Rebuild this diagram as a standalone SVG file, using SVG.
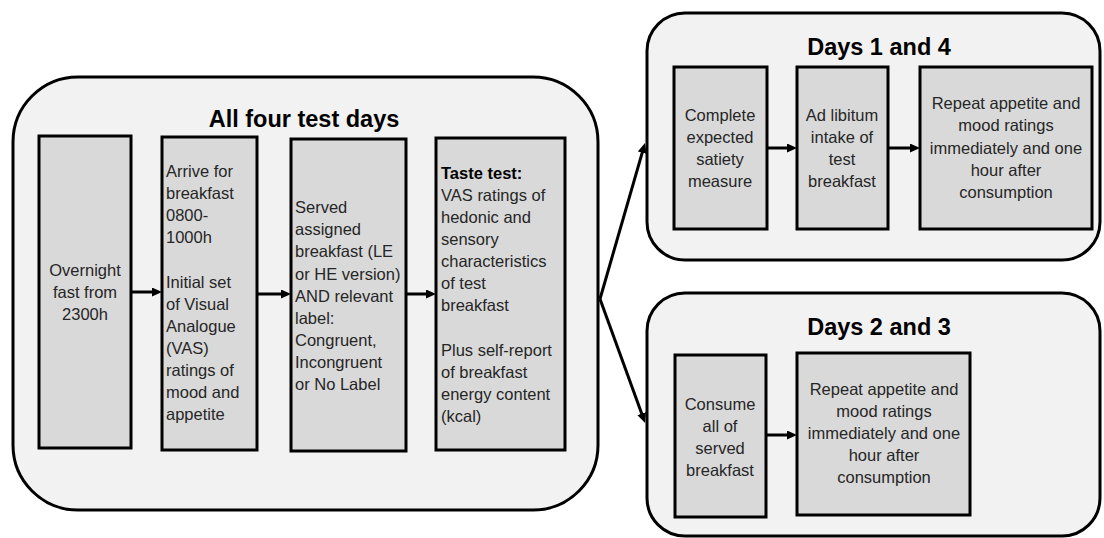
<svg xmlns="http://www.w3.org/2000/svg" width="1104" height="538" viewBox="0 0 1104 538">
<style>
.bg{fill:#ffffff}
.cont{fill:#f2f2f2;stroke:#000;stroke-width:3}
.box{fill:#d9d9d9;stroke:#000;stroke-width:3}
.title{font-family:"Liberation Sans",Arial,sans-serif;font-weight:bold;font-size:23.5px;fill:#000;text-anchor:middle}
.t{font-family:"Liberation Sans",Arial,sans-serif;font-size:16.5px;fill:#262626}
.c{text-anchor:middle}
.b{font-weight:bold;fill:#000}
.conn{stroke:#000;stroke-width:3;fill:none;marker-end:url(#ah)}
</style>
<defs>
<marker id="ah" markerUnits="userSpaceOnUse" markerWidth="12" markerHeight="10" refX="5" refY="4.5" orient="auto">
<path d="M0,0 L10,4.5 L0,9 z" fill="#000"/>
</marker>
</defs>
<rect class="bg" x="0" y="0" width="1104" height="538"/>

<g id="all-four-test-days">
<rect class="cont" x="13" y="77" width="585" height="433" rx="65" ry="65"/>
<text class="title" x="304" y="127">All four test days</text>
</g>
<g id="days-1-and-4">
<rect class="cont" x="647" y="13" width="453" height="247" rx="38" ry="38"/>
<text class="title" x="879" y="55">Days 1 and 4</text>
</g>
<g id="days-2-and-3">
<rect class="cont" x="647" y="293" width="453" height="243" rx="38" ry="38"/>
<text class="title" x="879" y="335">Days 2 and 3</text>
</g>

<g id="overnight-fast">
<rect class="box" x="39" y="136" width="92" height="312"/>
<text class="t c"><tspan x="85" y="276">Overnight</tspan><tspan x="85" y="298">fast from</tspan><tspan x="85" y="320">2300h</tspan></text>
</g>
<g id="arrive-breakfast">
<rect class="box" x="162" y="137" width="95" height="313"/>
<text class="t"><tspan x="166" y="177">Arrive for</tspan><tspan x="166" y="199">breakfast</tspan><tspan x="166" y="221">0800-</tspan><tspan x="166" y="243">1000h</tspan><tspan x="166" y="288">Initial set</tspan><tspan x="166" y="310">of Visual</tspan><tspan x="166" y="332">Analogue</tspan><tspan x="166" y="354">(VAS)</tspan><tspan x="166" y="376">ratings of</tspan><tspan x="166" y="398">mood  and</tspan><tspan x="166" y="420">appetite</tspan></text>
</g>
<g id="served-breakfast">
<rect class="box" x="291" y="139" width="115" height="312"/>
<text class="t"><tspan x="295" y="213">Served</tspan><tspan x="295" y="235">assigned</tspan><tspan x="295" y="257">breakfast (LE</tspan><tspan x="295" y="280">or HE version)</tspan><tspan x="295" y="302">AND relevant</tspan><tspan x="295" y="324">label:</tspan><tspan x="295" y="346">Congruent,</tspan><tspan x="295" y="368">Incongruent</tspan><tspan x="295" y="390">or No Label</tspan></text>
</g>
<g id="taste-test">
<rect class="box" x="436" y="138" width="129" height="312"/>
<text class="t"><tspan x="441" y="179" class="b">Taste test:</tspan><tspan x="441" y="201">VAS ratings of</tspan><tspan x="441" y="223">hedonic and</tspan><tspan x="441" y="245">sensory</tspan><tspan x="441" y="267">characteristics</tspan><tspan x="441" y="289">of test</tspan><tspan x="441" y="311">breakfast</tspan><tspan x="441" y="356">Plus self-report</tspan><tspan x="441" y="378">of breakfast</tspan><tspan x="441" y="400">energy content</tspan><tspan x="441" y="422">(kcal)</tspan></text>
</g>

<g id="expected-satiety">
<rect class="box" x="674" y="67" width="93" height="162"/>
<text class="t c"><tspan x="720" y="121">Complete</tspan><tspan x="720" y="143">expected</tspan><tspan x="720" y="165">satiety</tspan><tspan x="720" y="187">measure</tspan></text>
</g>
<g id="ad-libitum">
<rect class="box" x="797" y="67" width="91" height="162"/>
<text class="t c"><tspan x="842" y="121">Ad libitum</tspan><tspan x="842" y="143">intake of</tspan><tspan x="842" y="165">test</tspan><tspan x="842" y="187">breakfast</tspan></text>
</g>
<g id="repeat-ratings-1">
<rect class="box" x="920" y="67" width="172" height="162"/>
<text class="t c"><tspan x="1006" y="109">Repeat appetite and</tspan><tspan x="1006" y="131">mood  ratings</tspan><tspan x="1006" y="154">immediately and one</tspan><tspan x="1006" y="176">hour after</tspan><tspan x="1006" y="198">consumption</tspan></text>
</g>

<g id="consume-all">
<rect class="box" x="675" y="355" width="91" height="162"/>
<text class="t c"><tspan x="720" y="410">Consume</tspan><tspan x="720" y="432">all of</tspan><tspan x="720" y="454">served</tspan><tspan x="720" y="476">breakfast</tspan></text>
</g>
<g id="repeat-ratings-2">
<rect class="box" x="797" y="353" width="173" height="162"/>
<text class="t c"><tspan x="884" y="395">Repeat appetite and</tspan><tspan x="884" y="417">mood  ratings</tspan><tspan x="884" y="439">immediately and one</tspan><tspan x="884" y="461">hour after</tspan><tspan x="884" y="483">consumption</tspan></text>
</g>

<g id="connectors">
<line class="conn" x1="131" y1="292" x2="157" y2="292"/>
<line class="conn" x1="257" y1="294" x2="286" y2="294"/>
<line class="conn" x1="406" y1="294" x2="431" y2="294"/>
<line class="conn" x1="600" y1="299" x2="643.6" y2="147.8"/>
<line class="conn" x1="600" y1="299" x2="643.4" y2="418.3"/>
<line class="conn" x1="767" y1="148" x2="792" y2="148"/>
<line class="conn" x1="888" y1="148" x2="915" y2="148"/>
<line class="conn" x1="766" y1="435" x2="792" y2="435"/>
</g>
</svg>
